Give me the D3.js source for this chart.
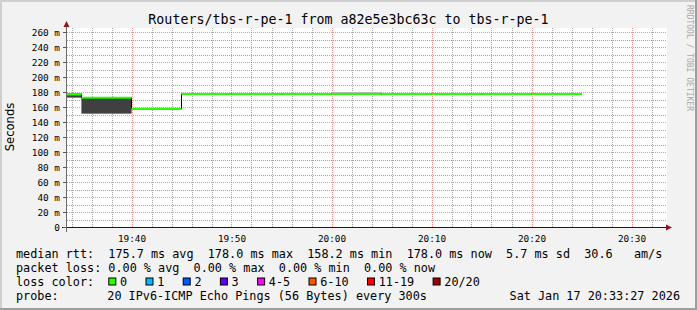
<!DOCTYPE html>
<html>
<head>
<meta charset="utf-8">
<script src="https://cdn.jsdelivr.net/npm/d3@7"></script>
<style>
  body { margin: 0; background: #f2f2f2; }
  svg { display: block; }
  text { font-family: "DejaVu Sans Mono", monospace; fill: #000; white-space: pre; }
</style>
</head>
<body>
<svg class="chart" width="697" height="310"></svg>
<script>
// step end times (300s steps)
var stepTimes = ["19:35","19:40","19:45","19:50","19:55","20:00","20:05","20:10","20:15","20:20","20:25"];
// median rtt in ms
var median   = [177.6, 173.0, 158.2, 178.0, 178.0, 178.0, 178.0, 178.0, 178.0, 178.0, 178.0];
// smoke (outer, light) and smoke (inner, dark) in ms
var smokeLo  = [173.0, 151.6, 157.4, 177.0, 177.1, 177.0, 177.0, 177.1, 177.0, 177.1, 177.1];
var smokeHi  = [178.8, 173.6, 158.8, 179.2, 179.3, 179.4, 180.6, 179.2, 179.1, 179.0, 178.9];
var darkLo   = [173.4, 152.0, 157.6, 177.3, 177.4, 177.3, 177.3, 177.4, 177.3, 177.4, 177.4];
var darkHi   = [178.4, 173.2, 158.6, 178.7, 178.7, 178.8, 178.9, 178.7, 178.7, 178.6, 178.6];

var yTicks = [0,20,40,60,80,100,120,140,160,180,200,220,240,260];
var xTickLabels = ["19:40","19:50","20:00","20:10","20:20","20:30"];

var statLines = [
  "median rtt:  175.7 ms avg  178.0 ms max  158.2 ms min  178.0 ms now  5.7 ms sd  30.6   am/s",
  "packet loss: 0.00 % avg  0.00 % max  0.00 % min  0.00 % now"
];
var lossLabels = ["0","1","2","3","4-5","6-10","11-19","20/20"];
var lossColors = ["#26ff00","#00b8ff","#0059ff","#5e00ff","#ff00fe","#ff5500","#ff0000","#a10000"];
var probeText = "20 IPv6-ICMP Echo Pings (56 Bytes) every 300s";
var stampText = "Sat Jan 17 20:33:27 2026";
var titleText = "Routers/tbs-r-pe-1 from a82e5e3bc63c to tbs-r-pe-1";

var parse = d3.timeParse("%Y-%m-%d %H:%M");
var tEnd = new Date(2026, 0, 17, 20, 33, 27);
var tStart = new Date(tEnd.getTime() - 3600 * 1000);
var ends = stepTimes.map(function(s){ return parse("2026-01-17 " + s); });

var x = d3.scaleTime().domain([tStart, tEnd]).range([66, 666]);
var y = d3.scaleLinear().domain([0, 266.67]).range([227.5, 27.5]);

var chart = d3.select(".chart");

// background + 3d shade border
chart.append("rect").attr("x",0).attr("y",0).attr("width",697).attr("height",310).attr("fill","#f2f2f2");
chart.append("path").attr("d","M0.5,309.5 L0.5,0.5 L696.5,0.5").attr("fill","none").attr("stroke","#cfcfcf").attr("stroke-width",1);
chart.append("path").attr("d","M1.5,309 L1.5,1.5 L696,1.5").attr("fill","none").attr("stroke","#cfcfcf").attr("stroke-width",1);
chart.append("path").attr("d","M0,309 L696,309 L696,0").attr("fill","none").attr("stroke","#9e9e9e").attr("stroke-width",2);

// canvas
chart.append("rect").attr("x",67).attr("y",28).attr("width",600).attr("height",200).attr("fill","#fff");

var grid = chart.append("g");

// minor grid
var minorY = d3.range(10, 267, 20);
grid.selectAll("line.minY").data(minorY).enter().append("line")
  .attr("x1", 67).attr("x2", 666)
  .attr("y1", function(d){ return Math.round(y(d) - 0.5) + 0.5; })
  .attr("y2", function(d){ return Math.round(y(d) - 0.5) + 0.5; })
  .attr("stroke", "rgba(140,140,140,0.8)").attr("stroke-dasharray", "1,1");

var minorX = d3.timeMinute.every(2).range(tStart, tEnd).filter(function(d){ return d.getMinutes() % 10 !== 0; });
grid.selectAll("line.minX").data(minorX).enter().append("line")
  .attr("x1", function(d){ return Math.round(x(d)) + 0.5; })
  .attr("x2", function(d){ return Math.round(x(d)) + 0.5; })
  .attr("y1", 28).attr("y2", 228)
  .attr("stroke", "rgba(140,140,140,0.8)").attr("stroke-dasharray", "1,1");

// major grid
grid.selectAll("line.majY").data(yTicks.slice(1)).enter().append("line")
  .attr("x1", 67).attr("x2", 666)
  .attr("y1", function(d){ return Math.round(y(d) - 0.5) + 0.5; })
  .attr("y2", function(d){ return Math.round(y(d) - 0.5) + 0.5; })
  .attr("stroke", "rgba(222,79,79,0.6)").attr("stroke-dasharray", "1,1");

var majorX = xTickLabels.map(function(s){ return parse("2026-01-17 " + s); });
grid.selectAll("line.majX").data(majorX).enter().append("line")
  .attr("x1", function(d){ return Math.round(x(d)) + 0.5; })
  .attr("x2", function(d){ return Math.round(x(d)) + 0.5; })
  .attr("y1", 28).attr("y2", 228)
  .attr("stroke", "rgba(222,79,79,0.6)").attr("stroke-dasharray", "1,1");

// clip to canvas
chart.append("clipPath").attr("id","plotclip").append("rect")
  .attr("x",67).attr("y",28).attr("width",600).attr("height",200);
var plot = chart.append("g").attr("clip-path","url(#plotclip)");

function stepStart(d){ return new Date(d.getTime() - 300 * 1000); }

// smoke
plot.selectAll("rect.smoke").data(ends).enter().append("rect")
  .attr("x", function(d){ return x(stepStart(d)); })
  .attr("width", function(d){ return x(d) - x(stepStart(d)); })
  .attr("y", function(d, i){ return y(smokeHi[i]); })
  .attr("height", function(d, i){ return y(smokeLo[i]) - y(smokeHi[i]); })
  .attr("fill", "#b4b4b4");
plot.selectAll("rect.dark").data(ends).enter().append("rect")
  .attr("x", function(d){ return x(stepStart(d)); })
  .attr("width", function(d){ return x(d) - x(stepStart(d)); })
  .attr("y", function(d, i){ return y(darkHi[i]); })
  .attr("height", function(d, i){ return y(darkLo[i]) - y(darkHi[i]); })
  .attr("fill", "#404040");

// median as black step line
var pts = [];
for ( var i = 0; i < ends.length; i++ ) {
  pts.push([x(stepStart(ends[i])), y(median[i])]);
  pts.push([x(ends[i]), y(median[i])]);
}
plot.append("path")
  .attr("d", d3.line()(pts))
  .attr("fill", "none").attr("stroke", "#000").attr("stroke-width", 1);

// loss coloured median (0 loss -> green)
plot.selectAll("line.med").data(ends).enter().append("line")
  .attr("x1", function(d){ return x(stepStart(d)); })
  .attr("x2", function(d){ return x(d); })
  .attr("y1", function(d, i){ return y(median[i]); })
  .attr("y2", function(d, i){ return y(median[i]); })
  .attr("stroke", lossColors[0]).attr("stroke-width", 2.2);

// axes
chart.append("line").attr("x1", 62).attr("x2", 668).attr("y1", 227.5).attr("y2", 227.5)
  .attr("stroke", "#1a1a1a");
chart.append("line").attr("x1", 66.5).attr("x2", 66.5).attr("y1", 232).attr("y2", 26)
  .attr("stroke", "#6a6a6a");
chart.append("path").attr("d", "M666,224.5 L672,227.5 L666,230.5 Z").attr("fill", "#8b1a1a");
chart.append("path").attr("d", "M63.5,27 L66.5,21 L69.5,27 Z").attr("fill", "#8b1a1a");

// y ticks + labels
chart.selectAll("line.ytick").data(yTicks).enter().append("line")
  .attr("x1", 63).attr("x2", 66)
  .attr("y1", function(d){ return Math.round(y(d) - 0.5) + 0.5; })
  .attr("y2", function(d){ return Math.round(y(d) - 0.5) + 0.5; })
  .attr("stroke", "#555");
chart.selectAll("text.ylab").data(yTicks).enter().append("text")
  .attr("x", 60).attr("y", function(d){ return y(d) + 3.5; })
  .style("font-size", "9.4px").style("text-anchor", "end")
  .text(function(d){ return d === 0 ? "0" : d + " m"; });

// x labels
chart.selectAll("text.xlab").data(majorX).enter().append("text")
  .attr("x", function(d){ return x(d) + 0.5; }).attr("y", 241.5)
  .style("font-size", "9.4px").style("text-anchor", "middle")
  .text(function(d, i){ return xTickLabels[i]; });

// y title
chart.append("text")
  .attr("transform", "translate(14,127) rotate(-90)")
  .style("font-family", "'DejaVu Sans', sans-serif").style("font-size", "11.6px")
  .style("text-anchor", "middle")
  .text("Seconds");

// title
chart.append("text").attr("x", 348.5).attr("y", 23.5)
  .style("font-size", "13.3px").style("text-anchor", "middle")
  .text(titleText);

// watermark
chart.append("text")
  .attr("transform", "translate(687,5) rotate(90)")
  .style("font-size", "8px").style("fill", "#a8a8a8")
  .text("RRDTOOL / TOBI OETIKER");

// legend
var rowY = [257.5, 271.5, 285.5, 299.5];
chart.selectAll("text.stat").data(statLines).enter().append("text")
  .attr("x", 16).attr("y", function(d, i){ return rowY[i]; })
  .style("font-size", "11.8px")
  .text(function(d){ return d; });

chart.append("text").attr("x", 16).attr("y", rowY[2]).style("font-size", "11.8px").text("loss color:");
var cw = 7.1;
var lx = 108.3;
for ( var j = 0; j < lossLabels.length; j++ ) {
  chart.append("rect").attr("x", lx + 0.5).attr("y", rowY[2] - 7.5).attr("width", 7).attr("height", 7)
    .attr("fill", lossColors[j]).attr("stroke", "#000").attr("stroke-width", 1);
  chart.append("text").attr("x", lx + 11.7).attr("y", rowY[2]).style("font-size", "11.8px").text(lossLabels[j]);
  lx = lx + 11.7 + lossLabels[j].length * cw + 18.4;
}

chart.append("text").attr("x", 16).attr("y", rowY[3]).style("font-size", "11.8px").text("probe:");
chart.append("text").attr("x", 107.3).attr("y", rowY[3]).style("font-size", "11.8px").text(probeText);
chart.append("text").attr("x", 680).attr("y", rowY[3]).style("font-size", "11.8px")
  .style("text-anchor", "end").text(stampText);
</script>
</body>
</html>
